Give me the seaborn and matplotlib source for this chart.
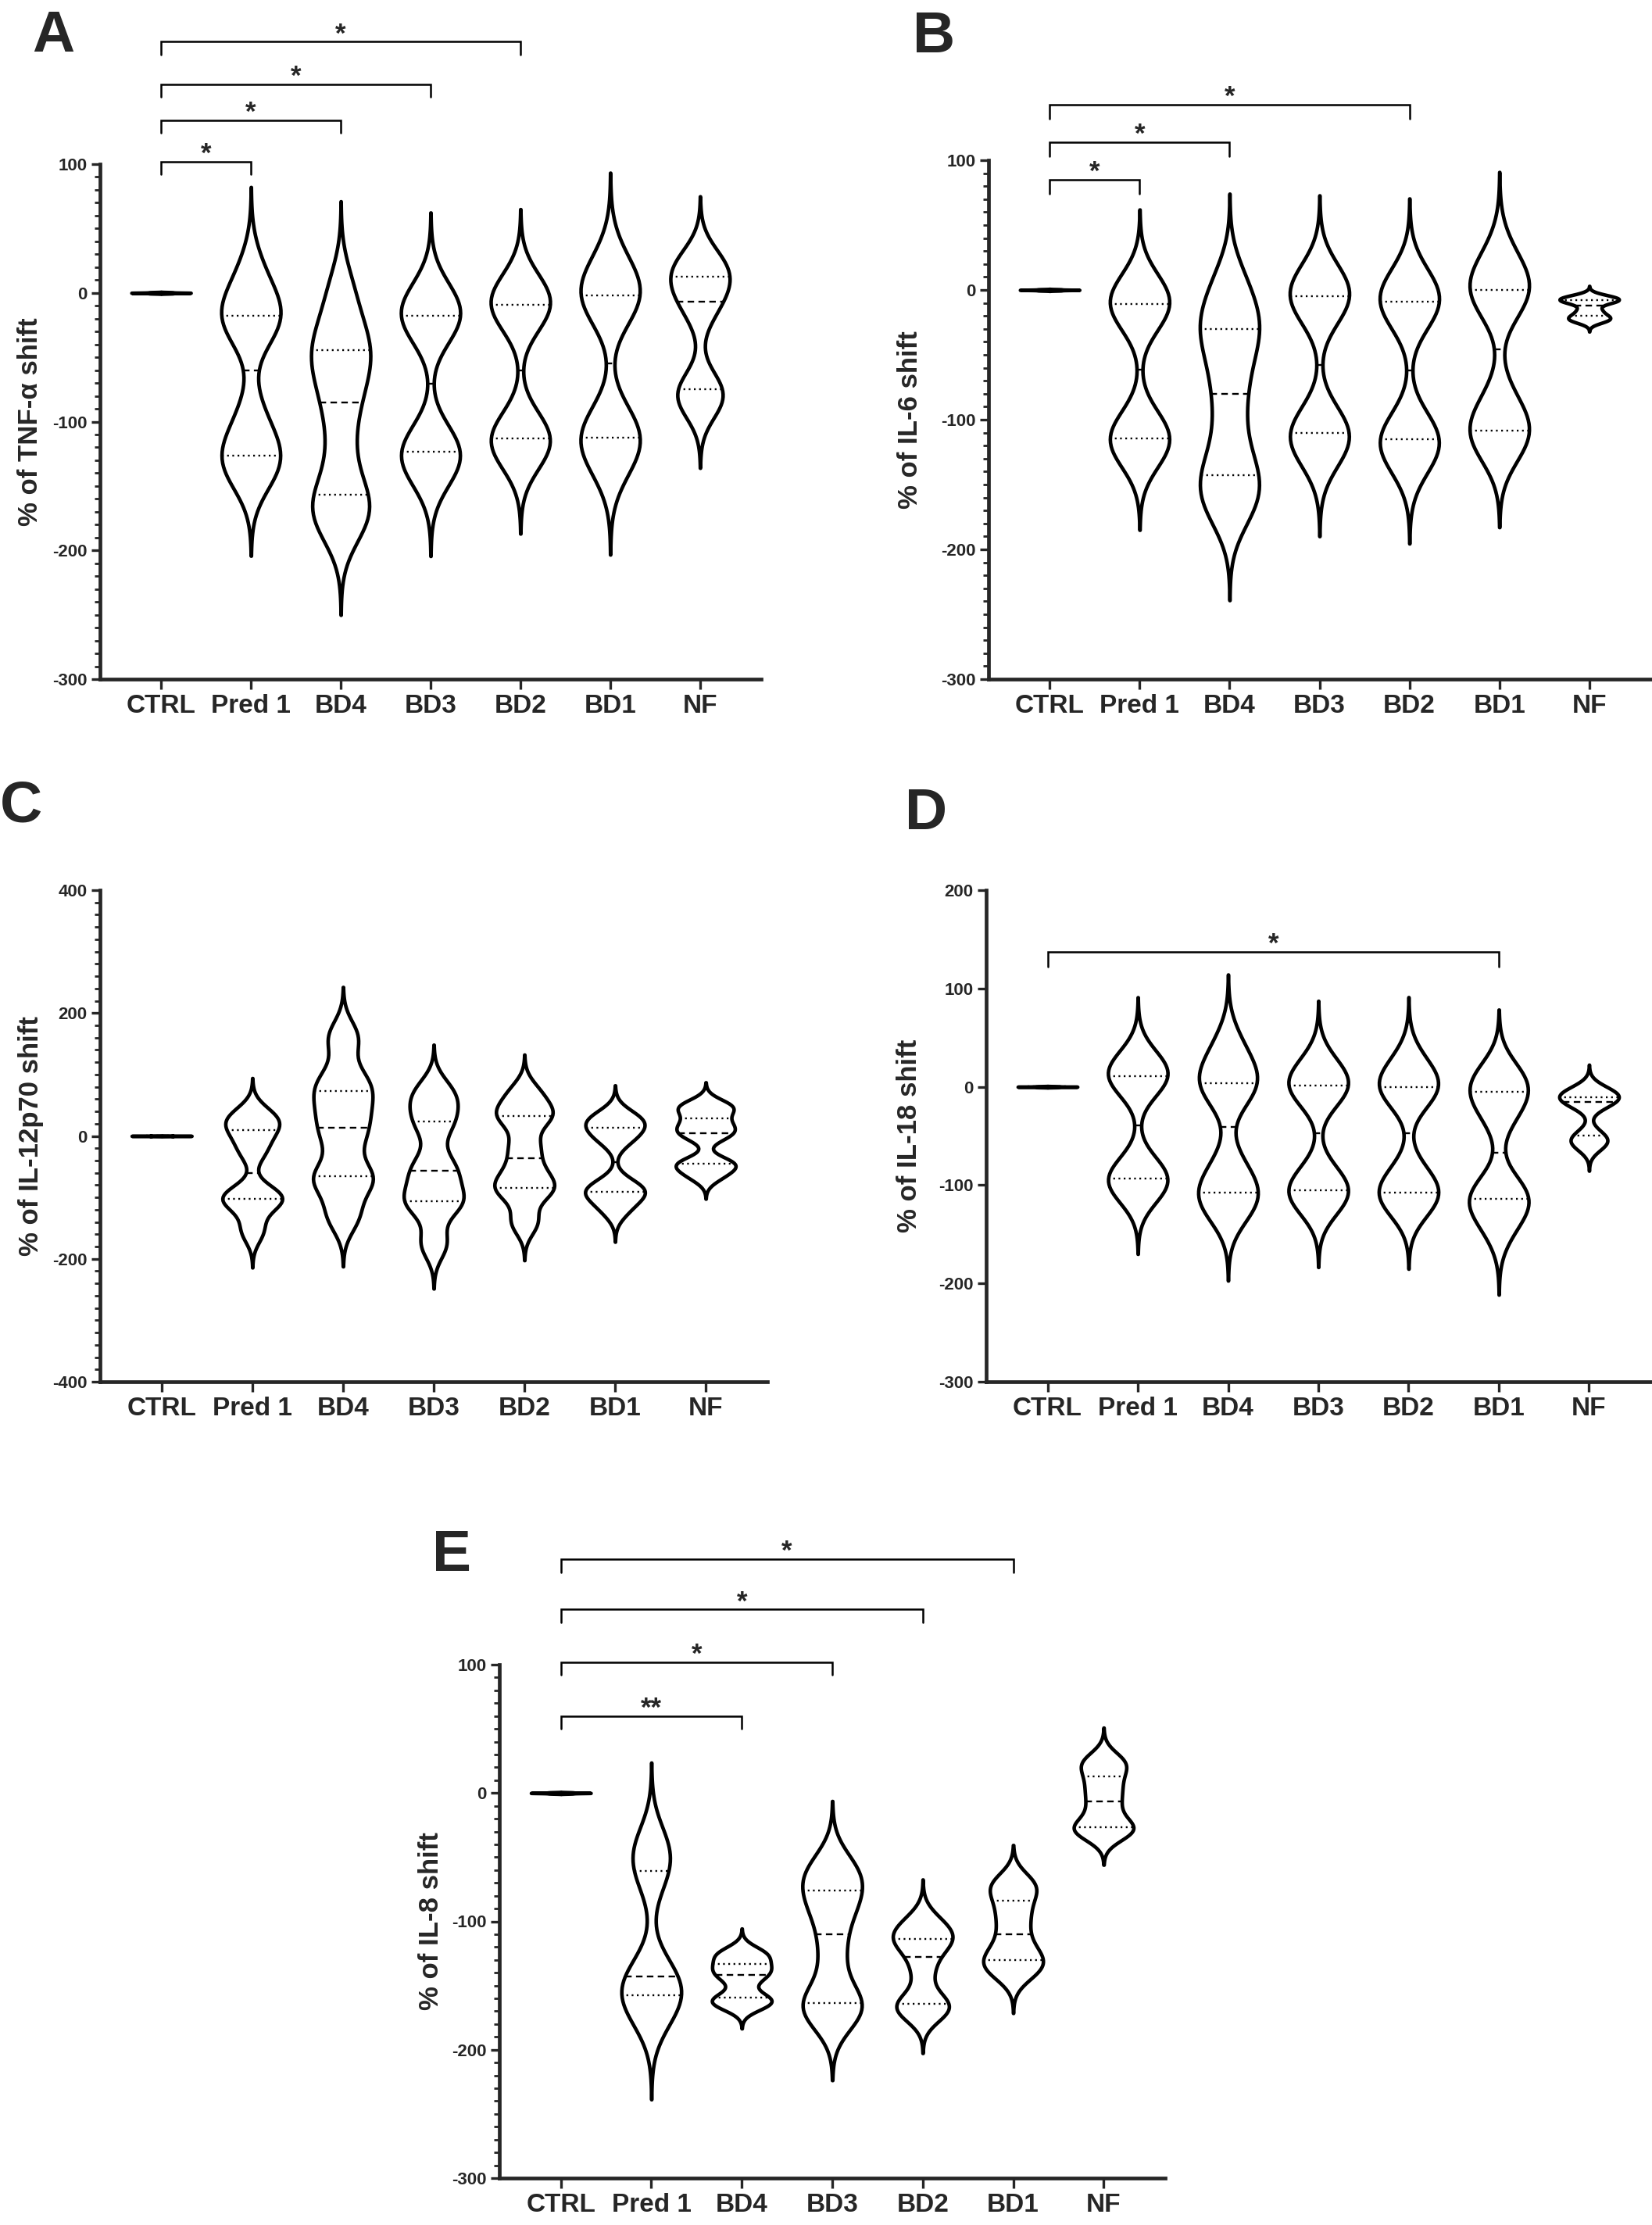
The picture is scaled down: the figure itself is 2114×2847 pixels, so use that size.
import matplotlib
matplotlib.use("Agg")
import matplotlib.pyplot as plt
from matplotlib.ticker import MultipleLocator, NullLocator
import pandas as pd
import seaborn as sns

# ------------------------------------------------------------------
# Data (one list per group, order = GROUPS)
# ------------------------------------------------------------------
GROUPS = ["CTRL", "Pred 1", "BD4", "BD3", "BD2", "BD1", "NF"]
CTRL = [-0.5, -0.3, -0.1, 0.0, 0.0, 0.1, 0.3, 0.5]

tnf_vals = [
    CTRL,
    [-137, -130, -125, -96, -24, -19, -15, 15],
    [-185, -172, -163, -155, -125, -95, -75, -58, -47, -38, -20, 6],
    [-139, -128, -122, -117, -24, -19, -15, -3],
    [-124, -117, -112, -106, -15, -10, -6, 2],
    [-133, -116, -111, -101, -8, -3, 1, 23],
    [-85, -80, -73, -14, 0, 10, 20, 24],
]
il6_vals = [
    CTRL,
    [-123, -118, -113, -106, -17, -12, -8, 0],
    [-175, -160, -150, -140, -120, -92, -68, -48, -32, -25, -10, 10],
    [-125, -114, -109, -105, -11, -6, -2, 8],
    [-130, -119, -114, -109, -15, -10, -6, 5],
    [-117, -112, -107, -86, -6, -1, 3, 25],
    [-24, -22, -19.3, -15, -9, -8.5, -6.5, -5],
]
il12_vals = [
    CTRL,
    [-154, -110, -100, -95, -25, 5, 23, 34],
    [-130, -75, -63, -5, 31, 66, 94, 160],
    [-175, -112, -105, -70, -44, 15, 47, 75],
    [-140, -90, -83, -55, -17, 30, 38, 70],
    [-120, -96, -90, -80, -6, 10, 25, 30],
    [-65, -47, -44, 0, 10, 24, 44, 50],
]
il18_vals = [
    CTRL,
    [-106, -98, -92, -83, 5, 10, 14, 27],
    [-125, -111, -106, -80, -2, 0, 15, 42],
    [-118, -109, -104, -90, -5, 0, 4, 22],
    [-119, -111, -106, -88, -6, -1, 3, 25],
    [-143, -118, -113, -105, -29, -8, 4, 10],
    [-60, -55, -48.3, -19, -12, -12, -7, -3],
]
il8_vals = [
    CTRL,
    [-175, -162, -156, -146, -140, -65, -49, -40],
    [-165, -163, -158.3, -145, -139, -135, -127, -124],
    [-170, -167, -162.5, -125, -95, -80, -64, -60],
    [-170, -167, -163, -138, -118, -116, -108, -100],
    [-140, -134, -128.7, -118, -102, -88, -72, -72],
    [-30, -29, -26, -12, -0.6, 10, 22, 25],
]

# significance brackets: (compared group, bracket height, label); all vs CTRL
tnf_brackets = [("Pred 1", 102, "*"), ("BD4", 134, "*"), ("BD3", 162, "*"), ("BD2", 195, "*")]
il6_brackets = [("Pred 1", 85, "*"), ("BD4", 114, "*"), ("BD2", 143, "*")]
il12_brackets = []
il18_brackets = [("BD1", 137, "*")]
il8_brackets = [("BD4", 60, "**"), ("BD3", 102, "*"), ("BD2", 143, "*"), ("BD1", 182, "*")]

# ------------------------------------------------------------------
# Style
# ------------------------------------------------------------------
sns.set_style("ticks")
plt.rcParams["font.family"] = ["Liberation Sans", "DejaVu Sans"]
plt.rcParams["font.weight"] = "bold"
plt.rcParams["axes.labelweight"] = "bold"
plt.rcParams["axes.unicode_minus"] = False
plt.rcParams["lines.scale_dashes"] = False

W, H = 2114, 2847


def rect(x0, x1, y0, y1):
    return [x0 / W, 1 - y1 / H, (x1 - x0) / W, (y1 - y0) / H]


# letter, values, ylabel, ylim, major, minor, brackets, axes px box, letter px, ylabel offset px, bw, drop
panels = [
    ("A", tnf_vals, "% of TNF-α shift", (-300, 100), 100, 10, tnf_brackets,
     (128, 974, 210, 869), (68, 66), -93, 0.55, 10),
    ("B", il6_vals, "% of IL-6 shift", (-300, 100), 100, 10, il6_brackets,
     (1265, 2112, 205, 869), (1195, 67), -104, 0.55, 11),
    ("C", il12_vals, "% of IL-12p70 shift", (-400, 400), 200, 20, il12_brackets,
     (128, 982, 1139, 1768), (27, 1052), -92, 0.43, 10),
    ("D", il18_vals, "% of IL-18 shift", (-300, 200), 100, None, il18_brackets,
     (1262, 2112, 1139, 1768), (1185, 1061), -102, 0.55, 15),
    ("E", il8_vals, "% of IL-8 shift", (-300, 100), 100, 10, il8_brackets,
     (639, 1491, 2130, 2787), (578, 2010), -91, 0.58, 10),
]

fig = plt.figure(figsize=(W / 100, H / 100), dpi=100)

for (letter, vals, ylabel, ylim, major, minor, brackets,
     box, lpos, yoff, bw, drop) in panels:
    ax = fig.add_axes(rect(*box))
    df = pd.DataFrame({
        "group": [g for g, v in zip(GROUPS, vals) for _ in v],
        "value": [x for v in vals for x in v],
    })
    sns.violinplot(data=df, x="group", y="value", order=GROUPS, ax=ax,
                   inner="quart", density_norm="width", width=0.66,
                   bw_adjust=bw, cut=3, color="white", saturation=1,
                   linecolor="black", linewidth=3.3,
                   inner_kws=dict(linewidth=1.7, color="black"))
    # Prism-like dotted quartiles and dashed median
    for i, ln in enumerate(ax.lines):
        if i % 3 == 1:
            ln.set_dashes([6, 4])
        else:
            ln.set_dashes([1.6, 3.2])

    ax.set_xlim(-0.68, 6.68)
    ax.set_ylim(*ylim)
    ax.yaxis.set_major_locator(MultipleLocator(major))
    if minor:
        ax.yaxis.set_minor_locator(MultipleLocator(minor))
    else:
        ax.yaxis.set_minor_locator(NullLocator())
    ax.set_xlabel("")
    ax.set_ylabel(ylabel, fontsize=25, fontweight="bold")
    wpx = box[1] - box[0]
    ax.yaxis.set_label_coords((yoff + 20) / wpx, 0.5)

    sns.despine(ax=ax)
    for s in ("left", "bottom"):
        ax.spines[s].set_linewidth(3.4)
    ax.tick_params(axis="x", which="major", length=9, width=2.4, pad=5,
                   labelsize=24)
    ax.tick_params(axis="y", which="major", length=8, width=2.4, pad=4,
                   labelsize=16)
    ax.tick_params(axis="y", which="minor", length=5, width=2.0)

    for grp, y, lab in brackets:
        x1, x2 = 0, GROUPS.index(grp)
        ax.plot([x1, x1, x2, x2], [y - drop, y, y, y - drop], color="black",
                lw=1.8, clip_on=False, solid_joinstyle="miter")
        ax.text((x1 + x2) / 2, y, lab, ha="center", va="baseline",
                fontsize=25, fontweight="bold", clip_on=False)

    fig.text(lpos[0] / W, 1 - lpos[1] / H, letter, ha="center",
             va="baseline", fontsize=54, fontweight="bold")

fig.savefig("out.png", dpi=100)
